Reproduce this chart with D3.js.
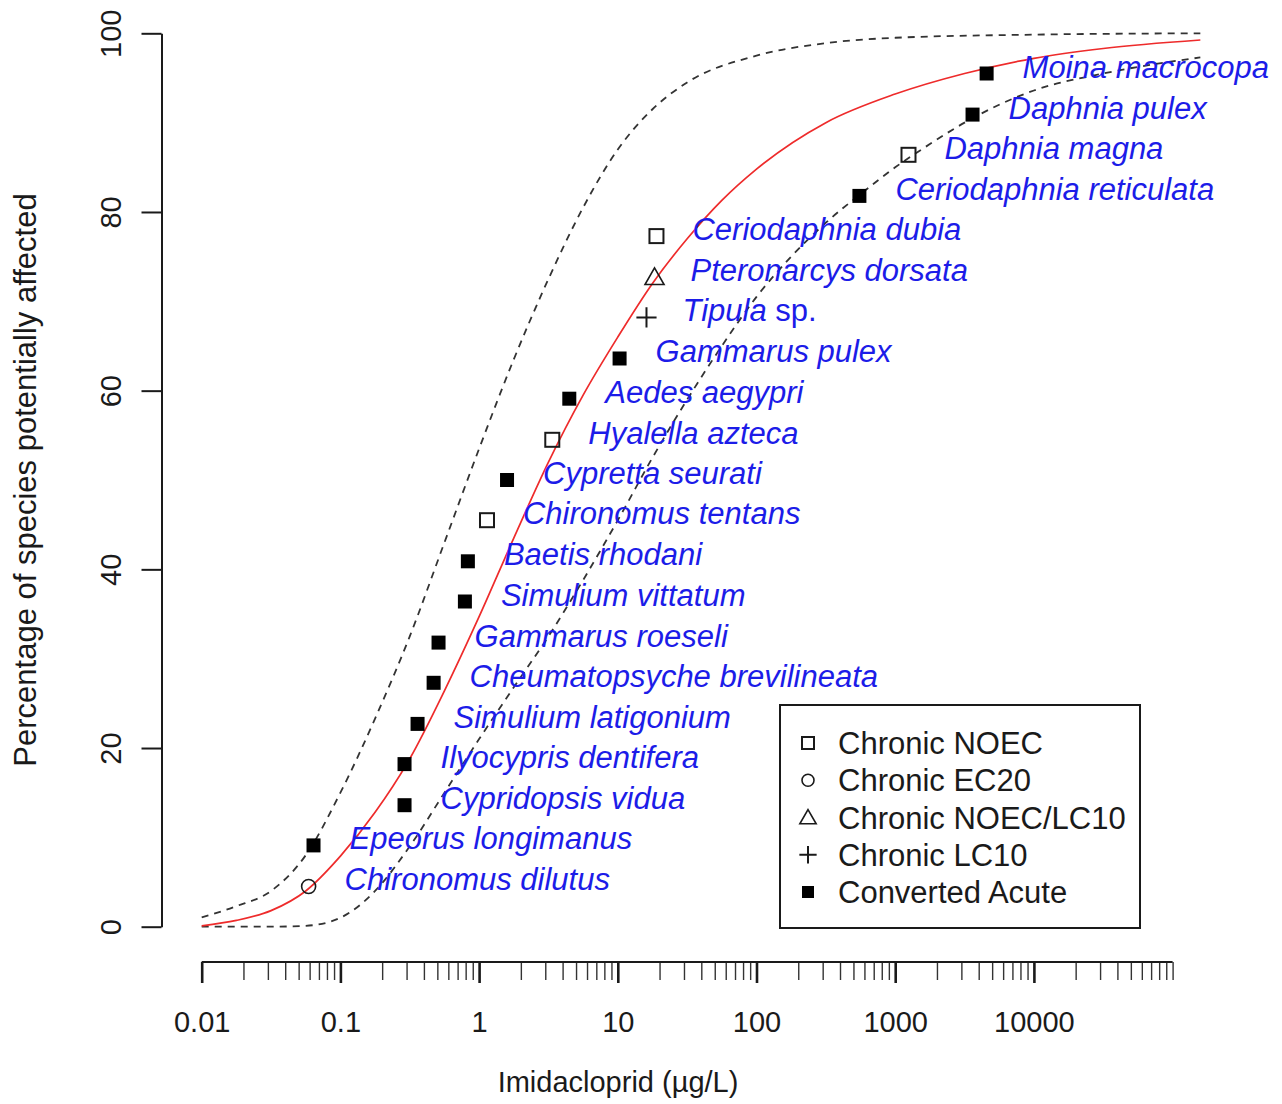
<!DOCTYPE html>
<html>
<head>
<meta charset="utf-8">
<script src="https://cdn.jsdelivr.net/npm/d3@7"></script>
<style>
  html, body { margin: 0; padding: 0; background: #ffffff; }
  svg { display: block; font-family: "Liberation Sans", Arial, sans-serif; }
</style>
</head>
<body>
<svg id="chart" width="1282" height="1104"></svg>
<script>
// Species sensitivity data for imidacloprid, ranked from most to least sensitive
const species = [
  "Chironomus dilutus", "Epeorus longimanus", "Cypridopsis vidua", "Ilyocypris dentifera",
  "Simulium latigonium", "Cheumatopsyche brevilineata", "Gammarus roeseli", "Simulium vittatum",
  "Baetis rhodani", "Chironomus tentans", "Cypretta seurati", "Hyalella azteca",
  "Aedes aegypri", "Gammarus pulex", "Tipula sp.", "Pteronarcys dorsata",
  "Ceriodaphnia dubia", "Ceriodaphnia reticulata", "Daphnia magna", "Daphnia pulex",
  "Moina macrocopa"
];
// toxicity value per species, µg/L
const concentration = [
  0.059, 0.064, 0.29, 0.29, 0.36, 0.47, 0.51, 0.79, 0.83, 1.14, 1.59,
  3.37, 4.47, 10.3, 16.1, 18.4, 19.0, 552, 1247, 3611, 4562
];
// plotting position, % of species
const percentAffected = [
  4.5, 9.1, 13.6, 18.2, 22.7, 27.3, 31.8, 36.4, 40.9, 45.5, 50.0,
  54.5, 59.1, 63.6, 68.2, 72.7, 77.3, 81.8, 86.4, 90.9, 95.5
];
// endpoint type per species
const endpoint = [
  "EC20", "Acute", "Acute", "Acute", "Acute", "Acute", "Acute", "Acute", "Acute", "NOEC", "Acute",
  "NOEC", "Acute", "Acute", "LC10", "NOEC/LC10", "NOEC", "Acute", "NOEC", "Acute", "Acute"
];

// fitted distribution (log10 µg/L vs %)
const fitLog10 = [-2, -1.75, -1.5, -1.25, -1.0, -0.75, -0.5, -0.25, 0.0, 0.25, 0.5, 0.75, 1.0, 1.25, 1.5, 1.75, 2.0, 2.5, 3.0, 3.5, 4.0, 4.5, 5.2];
const fitPercent = [0.1, 0.7, 1.8, 4.0, 7.9, 12.8, 18.8, 26.4, 34.7, 43.5, 52.0, 59.5, 66.0, 72.0, 77.0, 81.3, 84.8, 90.0, 93.2, 95.5, 97.2, 98.3, 99.25];

// upper confidence band
const upperLog10 = [-2, -1.75, -1.5, -1.25, -1.0, -0.75, -0.5, -0.25, 0.0, 0.25, 0.5, 0.75, 1.0, 1.25, 1.5, 2.0, 2.5, 3.0, 4.0, 5.2];
const upperPercent = [1.05, 2.3, 4.0, 8.0, 15.0, 23.3, 32.5, 43.0, 53.5, 63.5, 72.5, 80.5, 87.0, 91.5, 94.5, 97.5, 98.9, 99.5, 99.85, 100];

// lower confidence band
const lowerLog10 = [-2, -1.5, -1.25, -1.0, -0.75, -0.5, -0.25, 0.0, 0.25, 0.5, 0.75, 1.0, 1.25, 1.5, 1.75, 2.0, 2.25, 2.5, 2.75, 3.0, 3.25, 3.5, 4.0, 4.5, 5.2];
const lowerPercent = [0, 0, 0.1, 1.0, 4.0, 9.0, 15.0, 21.0, 26.8, 32.5, 38.8, 45.5, 52.5, 59.0, 65.0, 70.5, 75.0, 78.8, 82.0, 85.0, 87.6, 90.0, 93.6, 95.5, 97.3];

const xMajorTicks = [0.01, 0.1, 1, 10, 100, 1000, 10000];
const xMajorLabels = ["0.01", "0.1", "1", "10", "100", "1000", "10000"];
const yTicks = [0, 20, 40, 60, 80, 100];

const legendTypes = ["NOEC", "EC20", "NOEC/LC10", "LC10", "Acute"];
const legendLabels = ["Chronic NOEC", "Chronic EC20", "Chronic NOEC/LC10", "Chronic LC10", "Converted Acute"];

const svg = d3.select("#chart");
const ink = "#1a1a1a";

const x = d3.scaleLog().domain([0.01, 1e5]).range([201.7, 1172.6]);
const y = d3.scaleLinear().domain([0, 100]).range([926.7, 33.3]);

// ---- curves ----
const line = d3.line()
  .x(d => x(Math.pow(10, d[0])))
  .y(d => y(d[1]))
  .curve(d3.curveMonotoneX);

svg.append("path")
  .datum(upperLog10.map((v, i) => [v, upperPercent[i]]))
  .attr("d", line)
  .attr("fill", "none").attr("stroke", "#333").attr("stroke-width", 1.8)
  .attr("stroke-dasharray", "7,6");

svg.append("path")
  .datum(lowerLog10.map((v, i) => [v, lowerPercent[i]]))
  .attr("d", line)
  .attr("fill", "none").attr("stroke", "#333").attr("stroke-width", 1.8)
  .attr("stroke-dasharray", "7,6");

svg.append("path")
  .datum(fitLog10.map((v, i) => [v, fitPercent[i]]))
  .attr("d", line)
  .attr("fill", "none").attr("stroke", "#ee2b2b").attr("stroke-width", 1.7);

// ---- axes ----
const xAxisY = 962;
const xMajor = d3.axisBottom(x).tickValues(xMajorTicks)
  .tickFormat((d, i) => xMajorLabels[i]).tickSize(21).tickSizeOuter(0);
const xMinorValues = [];
for (let e = -2; e < 5; e++) {
  for (let m = 2; m <= 9; m++) xMinorValues.push(m * Math.pow(10, e));
}
xMinorValues.push(1e5);
const xMinor = d3.axisBottom(x).tickValues(xMinorValues).tickFormat("").tickSize(18).tickSizeOuter(0);

const gxMinor = svg.append("g").attr("transform", `translate(0,${xAxisY})`).call(xMinor);
gxMinor.select(".domain").remove();
gxMinor.selectAll(".tick line").attr("stroke", "#333").attr("stroke-width", 1.4);

const gx = svg.append("g").attr("transform", `translate(0,${xAxisY})`).call(xMajor);
gx.select(".domain").attr("stroke", ink).attr("stroke-width", 2)
  .attr("d", `M${x(0.01)},0H${x(1e5)}`);
gx.selectAll(".tick line").attr("stroke", ink).attr("stroke-width", 2.6);
gx.selectAll(".tick text")
  .attr("font-size", 29).attr("fill", ink)
  .attr("font-family", "Liberation Sans, Arial, sans-serif")
  .attr("y", 70).attr("dy", 0);

const yAxisX = 161.5;
const gy = svg.append("g").attr("transform", `translate(${yAxisX},0)`)
  .call(d3.axisLeft(y).tickValues(yTicks).tickSize(20).tickSizeOuter(0));
gy.select(".domain").attr("stroke", ink).attr("stroke-width", 2);
gy.selectAll(".tick line").attr("stroke", ink).attr("stroke-width", 2);
gy.selectAll(".tick text")
  .attr("font-size", 29).attr("fill", ink)
  .attr("font-family", "Liberation Sans, Arial, sans-serif")
  .attr("transform", "rotate(-90)")
  .attr("x", 0).attr("y", -41).attr("dy", 0)
  .attr("text-anchor", "middle");

// axis titles
svg.append("text")
  .attr("x", 618).attr("y", 1092)
  .attr("text-anchor", "middle").attr("font-size", 29).attr("fill", ink)
  .text("Imidacloprid (µg/L)");

svg.append("text")
  .attr("transform", "translate(36,480) rotate(-90)")
  .attr("text-anchor", "middle").attr("font-size", 31).attr("fill", ink)
  .text("Percentage of species potentially affected");

// ---- symbols ----
function drawSymbol(g, type, cx, cy, s) {
  const h = s / 2;
  if (type === "NOEC") {
    g.append("rect").attr("x", cx - h).attr("y", cy - h).attr("width", s).attr("height", s)
      .attr("fill", "none").attr("stroke", ink).attr("stroke-width", 2);
  } else if (type === "Acute") {
    g.append("rect").attr("x", cx - h).attr("y", cy - h).attr("width", s).attr("height", s)
      .attr("fill", "#000");
  } else if (type === "EC20") {
    g.append("circle").attr("cx", cx).attr("cy", cy).attr("r", h)
      .attr("fill", "none").attr("stroke", ink).attr("stroke-width", 1.6);
  } else if (type === "NOEC/LC10") {
    const w = s * 0.68, top = s * 0.66, bot = s * 0.52;
    g.append("path")
      .attr("d", `M${cx},${cy - top}L${cx + w},${cy + bot}L${cx - w},${cy + bot}Z`)
      .attr("fill", "none").attr("stroke", ink).attr("stroke-width", 1.6);
  } else if (type === "LC10") {
    const r = s * 0.72;
    g.append("path").attr("d", `M${cx - r},${cy}H${cx + r}M${cx},${cy - r}V${cy + r}`)
      .attr("fill", "none").attr("stroke", ink).attr("stroke-width", 2);
  }
}

const pts = svg.append("g");
species.forEach((name, i) => {
  drawSymbol(pts, endpoint[i], x(concentration[i]), y(percentAffected[i]), 14);
});

// species labels
const labels = svg.append("g")
  .attr("font-size", 31).attr("font-style", "italic").attr("fill", "#1c1ce8");
species.forEach((name, i) => {
  const t = labels.append("text")
    .attr("x", x(concentration[i]) + 36)
    .attr("y", y(percentAffected[i]) + 4);
  if (name.endsWith(" sp.")) {
    t.append("tspan").text(name.slice(0, -4) + " ");
    t.append("tspan").attr("font-style", "normal").text("sp.");
  } else {
    t.text(name);
  }
});

// ---- legend ----
const lg = svg.append("g");
lg.append("rect").attr("x", 780).attr("y", 705).attr("width", 360).attr("height", 223)
  .attr("fill", "#fff").attr("stroke", ink).attr("stroke-width", 2);
const legendRowY = d3.scalePoint().domain(legendLabels).range([743, 892]);
legendLabels.forEach((lab, i) => {
  const cy = legendRowY(lab);
  drawSymbol(lg, legendTypes[i], 808, cy, 12);
  lg.append("text").attr("x", 838).attr("y", cy + 11)
    .attr("font-size", 31).attr("fill", ink).text(lab);
});
</script>
</body>
</html>
